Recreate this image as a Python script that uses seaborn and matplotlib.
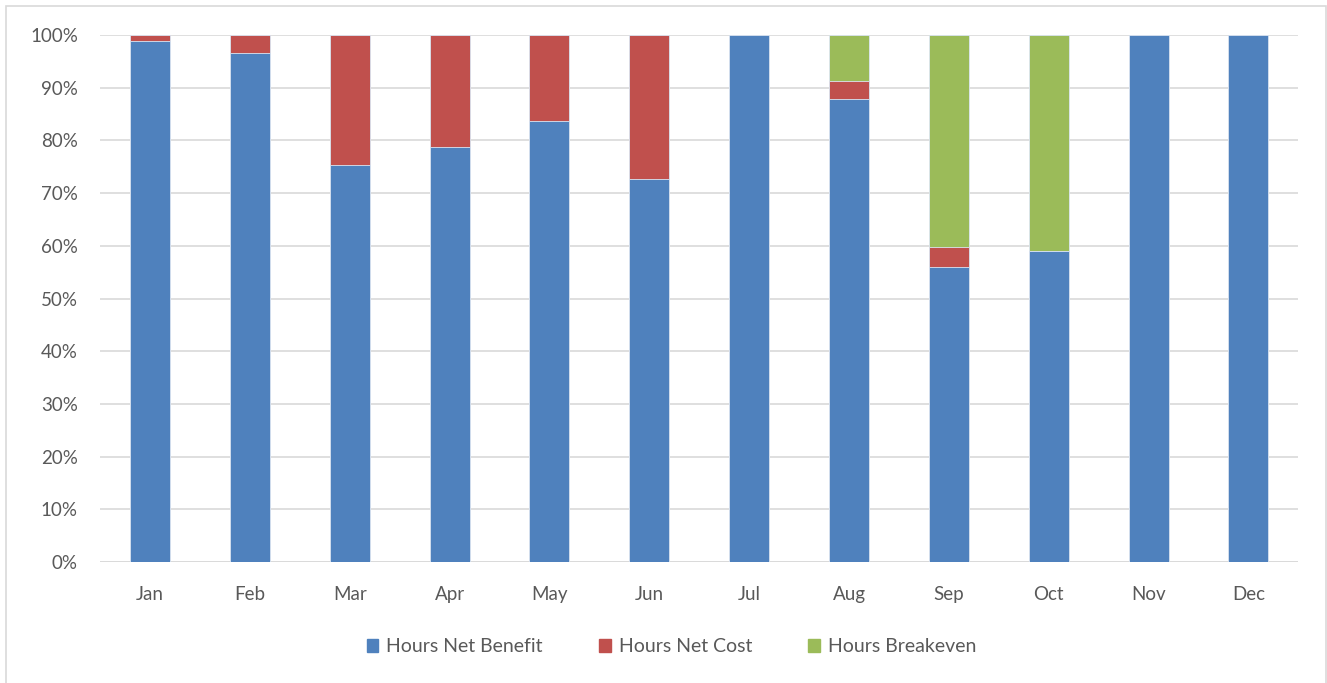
import matplotlib
matplotlib.use("Agg")
import matplotlib.pyplot as plt
from matplotlib.patches import Rectangle
from matplotlib.ticker import PercentFormatter, MultipleLocator
import pandas as pd
import seaborn as sns

# Share of hours per month (%)
months = ["Jan", "Feb", "Mar", "Apr", "May", "Jun",
          "Jul", "Aug", "Sep", "Oct", "Nov", "Dec"]
net_benefit = [98.9, 96.6, 75.3, 78.7, 83.7, 72.6, 100.0, 87.9, 55.9, 59.0, 100.0, 100.0]
net_cost = [1.1, 3.4, 24.7, 21.3, 16.3, 27.4, 0.0, 3.4, 3.8, 0.0, 0.0, 0.0]
breakeven = [0.0, 0.0, 0.0, 0.0, 0.0, 0.0, 0.0, 8.7, 40.3, 41.0, 0.0, 0.0]

series_names = ["Hours Net Benefit", "Hours Net Cost", "Hours Breakeven"]
series_colors = ["#4F81BD", "#C0504D", "#9BBB59"]

sns.set_theme(style="white")
plt.rcParams["font.family"] = ["Lato", "DejaVu Sans"]

df = pd.DataFrame({"month": months,
                   "benefit": net_benefit,
                   "cost": net_cost,
                   "breakeven": breakeven})
df["top_cost"] = df["benefit"] + df["cost"]
df["top_all"] = df["top_cost"] + df["breakeven"]

fig = plt.figure(figsize=(13.27, 6.83), dpi=100)
ax = fig.add_axes([0.0754, 0.1771, 0.9030, 0.7717])

# Stacked columns: draw cumulative heights from the top segment down
for col, color in zip(["top_all", "top_cost", "benefit"], series_colors[::-1]):
    sns.barplot(data=df, x="month", y=col, order=months, color=color,
                width=0.4, saturation=1, edgecolor="#DCE6F2", linewidth=0.6,
                ax=ax, zorder=3)

ax.set_ylim(0, 100)
ax.set_xlim(-0.5, 11.5)
ax.yaxis.set_major_locator(MultipleLocator(10))
ax.yaxis.set_major_formatter(PercentFormatter(decimals=0))
ax.grid(axis="y", color="#D9D9D9", linewidth=1.2, zorder=0)
ax.grid(axis="x", visible=False)
for s in ["top", "right", "left", "bottom"]:
    ax.spines[s].set_visible(False)
ax.axhline(0, color="#D9D9D9", linewidth=1.2, zorder=1)
ax.set_xlabel("")
ax.set_ylabel("")
ax.tick_params(axis="both", length=0, labelsize=13.5, labelcolor="#595959")
ax.tick_params(axis="x", pad=17)
ax.tick_params(axis="y", pad=16)

handles = [Rectangle((0, 0), 1, 1, color=c) for c in series_colors]
fig.legend(handles, series_names, loc="center", bbox_to_anchor=(0.506, 0.053),
           ncol=3, frameon=False, fontsize=14, labelcolor="#595959",
           handlelength=0.6, handleheight=0.6, handletextpad=0.4,
           columnspacing=2.9)

# Chart border
fig.patches.append(Rectangle((0.0045, -0.01), 0.9945, 1.0012, transform=fig.transFigure,
                             fill=False, edgecolor="#D9D9D9", linewidth=1.2))

fig.savefig("out.png", dpi=100, facecolor="white")
